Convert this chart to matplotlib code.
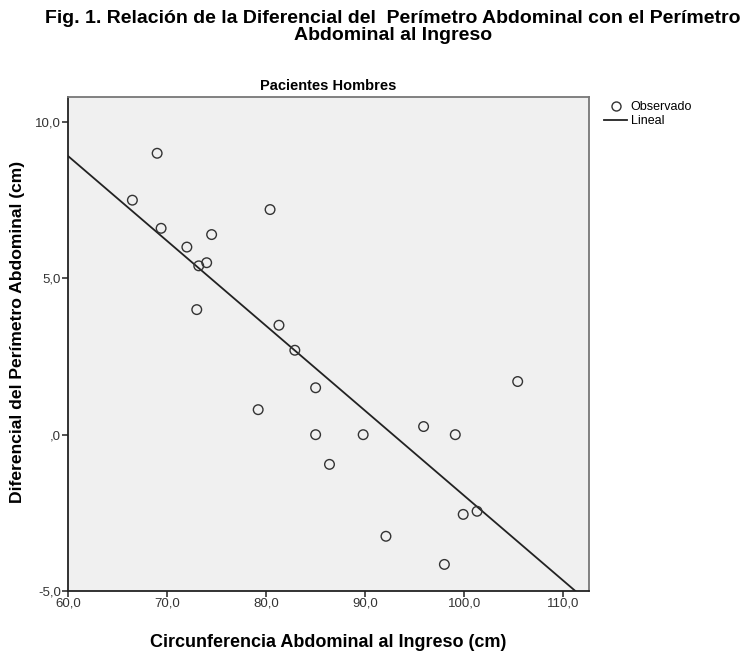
import numpy as np
import matplotlib
matplotlib.use('Agg')
import matplotlib.pyplot as plt
from matplotlib.lines import Line2D

circ_ingreso = [66.5, 69.0, 69.4, 74.5, 72.0, 73.2, 74.0, 73.0, 80.4, 81.3,
                82.9, 79.2, 85.0, 85.0, 89.8, 86.4, 95.9, 99.1, 105.4, 92.1,
                98.0, 99.9, 101.3]
dif_perimetro = [7.5, 9.0, 6.6, 6.4, 6.0, 5.4, 5.5, 4.0, 7.2, 3.5,
                 2.7, 0.8, 1.5, 0.0, 0.0, -0.95, 0.26, 0.0, 1.7, -3.25,
                 -4.15, -2.55, -2.45]

xticks = [60, 70, 80, 90, 100, 110]
xtick_labels = ['60,0', '70,0', '80,0', '90,0', '100,0', '110,0']
yticks = [-5, 0, 5, 10]
ytick_labels = ['-5,0', ',0', '5,0', '10,0']

title = ('Fig. 1. Relación de la Diferencial del  Perímetro Abdominal con el Perímetro\n'
         'Abdominal al Ingreso')
subtitle = 'Pacientes Hombres'
xlabel = 'Circunferencia Abdominal al Ingreso (cm)'
ylabel = 'Diferencial del Perímetro Abdominal (cm)'

plt.rcParams['font.family'] = ['Liberation Sans', 'DejaVu Sans']

fig = plt.figure(figsize=(7.51, 6.51), dpi=100)
ax = fig.add_axes([68 / 751, 1 - 591 / 651, (589 - 68) / 751, (591 - 97) / 651])
ax.set_facecolor('#f0f0f0')

x = np.array(circ_ingreso)
y = np.array(dif_perimetro)
ax.scatter(x, y, s=48, facecolors='none', edgecolors='#333333',
           linewidths=1.0, zorder=3)

# linear fit across the whole x range
slope, intercept = np.polyfit(x, y, 1)
xlim = (60, 112.6)
xx = np.array(xlim)
ax.plot(xx, intercept + slope * xx, color='#222222', lw=1.3, zorder=2)

ax.set_xlim(*xlim)
ax.set_ylim(-5, 10.8)
ax.set_xticks(xticks)
ax.set_xticklabels(xtick_labels, fontsize=9.5, color='#333333')
ax.set_yticks(yticks)
ax.set_yticklabels(ytick_labels, fontsize=9.5, color='#333333')
ax.tick_params(direction='out', length=4, width=1.2, color='#333333', pad=1)

for side in ['left', 'bottom']:
    ax.spines[side].set_color('#222222')
    ax.spines[side].set_linewidth(1.3)
for side in ['top', 'right']:
    ax.spines[side].set_color('#777777')
    ax.spines[side].set_linewidth(1.3)

ax.set_title(subtitle, fontweight='bold', fontsize=10.5, pad=5)
ax.set_xlabel(xlabel, fontweight='bold', fontsize=13, labelpad=17)
ax.set_ylabel(ylabel, fontweight='bold', fontsize=12.6)
ax.yaxis.set_label_coords(-0.083, 0.525)

fig.text(393 / 751, 1 - 27 / 651, title, fontweight='bold',
         fontsize=14, ha='center', va='center', linespacing=1.02)

handles = [Line2D([], [], ls='', marker='o', mfc='none', mec='#333333',
                  ms=6.5, mew=1.0),
           Line2D([], [], color='#222222', lw=1.3)]
leg = fig.legend(handles, ['Observado', 'Lineal'], loc='upper left',
                 bbox_to_anchor=(598 / 751, 1 - 95 / 651), frameon=False,
                 prop={'size': 9}, handlelength=1.8,
                 handletextpad=0.3, labelspacing=0.15, borderpad=0)

fig.savefig('out.png', dpi=100)
